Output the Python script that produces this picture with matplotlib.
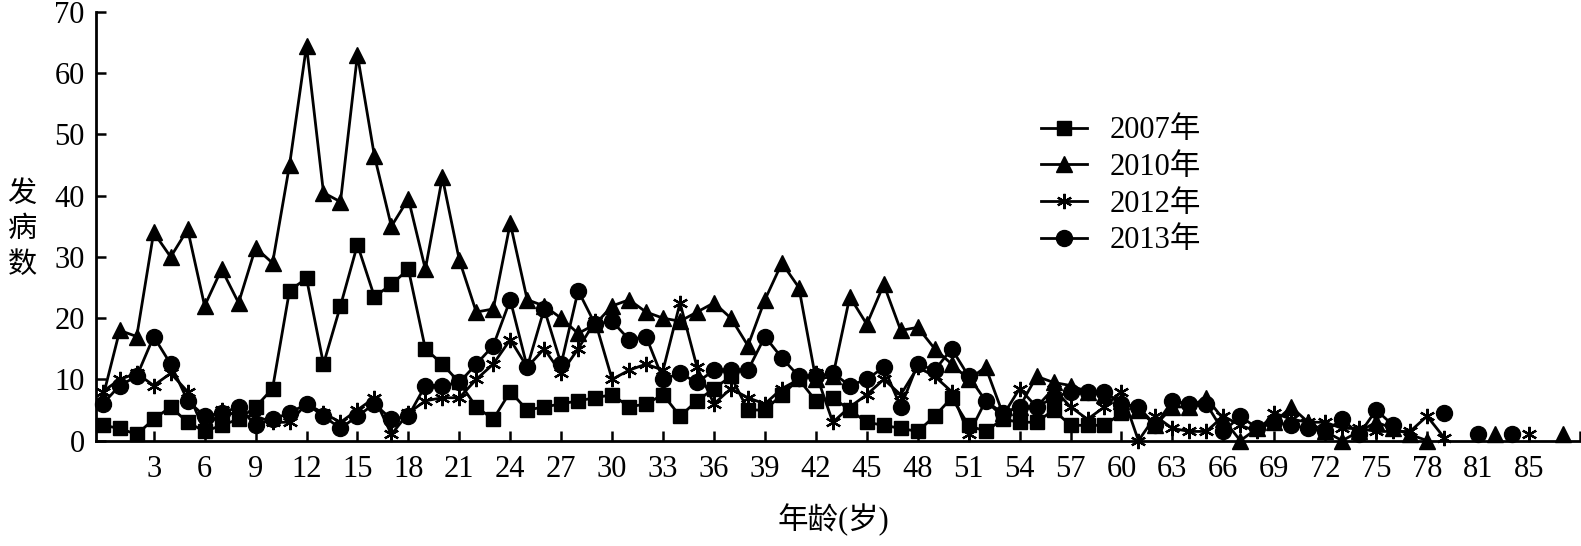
import numpy as np
import matplotlib
matplotlib.use('Agg')
import matplotlib.pyplot as plt

nan = np.nan

# x categories (ages); there is no column for 84, so "85" sits at index 84
ages = list(range(84)) + [85, 86, 87]

series_labels = ['2007年', '2010年', '2012年', '2013年']

cases_2007 = [
    2.5, 2, 1, 3.5, 5.5, 3, 1.5, 2.5, 3.5, 5.5,
    8.5, 24.5, 26.5, 12.5, 22, 32, 23.5, 25.5, 28, 15,
    12.5, 9.5, 5.5, 3.5, 8, 5, 5.5, 6, 6.5, 7,
    7.5, 5.5, 6, 7.5, 4, 6.5, 8.5, 10.5, 5, 5,
    7.5, 10, 6.5, 7, 5, 3, 2.5, 2, 1.5, 4,
    7, 2.5, 1.5, 3.5, 3, 3, 5, 2.5, 2.5, 2.5,
    4.5, nan, nan, nan, nan, nan, nan, nan, nan, nan,
    nan, nan, nan, nan, nan, nan, nan, nan, nan, nan,
    nan, nan, nan, nan, nan, nan, nan,
]
cases_2010 = [
    7, 18, 17, 34, 30, 34.5, 22, 28, 22.5, 31.5,
    29, 45, 64.5, 40.5, 39, 63, 46.5, 35, 39.5, 28,
    43, 29.5, 21, 21.5, 35.5, 23, 22, 20, 17.5, 19,
    22, 23, 21, 20, 19.5, 21, 22.5, 20, 15.5, 23,
    29, 25, 10, 10.5, 23.5, 19, 25.5, 18, 18.5, 15,
    12.5, 10, 12, 4.5, 5.5, 10.5, 9.5, 9, 8, 7.5,
    6.5, 5, 2.5, 5.5, 5.5, 7, 3.5, 0, 2, 3,
    5.5, 3, 1.5, 0, 1.5, 3, 2, 1, 0, nan,
    nan, nan, 1, nan, nan, nan, 1,
]
cases_2012 = [
    8, 10, 11, 9, 11, 8, 1.5, 5, 4, 4,
    3, 3, 6, 4.5, 3, 5, 7, 1, 4.5, 6.5,
    7, 7, 10, 12.5, 16.5, 12, 15, 11, 15, 19.5,
    10, 11.5, 12.5, 11.5, 22.5, 12, 6, 8.5, 7, 6,
    8.5, 10, 11, 3, 5.5, 7.5, 10, 7.5, 12, 10.5,
    8, 1, 6.5, 4, 8.5, 5.5, 8.5, 5.5, 3.5, 5.5,
    8, 0, 4, 2, 1.5, 1.5, 4, 2.5, 1.5, 4.5,
    3.5, 3, 3, 2, 2, 1.5, 1.5, 1.5, 4, 0.5,
    nan, nan, nan, nan, 1, nan, nan,
]
cases_2013 = [
    6, 9, 10.5, 17, 12.5, 6.5, 4, 4.5, 5.5, 2.5,
    3.5, 4.5, 6, 4, 2, 4, 6, 3.5, 4, 9,
    9, 9.5, 12.5, 15.5, 23, 12, 21.5, 12.5, 24.5, 19,
    19.5, 16.5, 17, 10, 11, 9.5, 11.5, 11.5, 11.5, 17,
    13.5, 10.5, 10.5, 11, 9, 10, 12, 5.5, 12.5, 11.5,
    15, 10.5, 6.5, 4.5, 5.5, 5.5, 7, 8, 8, 8,
    6, 5.5, 2.5, 6.5, 6, 6, 1.5, 4, 2, 3,
    2.5, 2, 1.5, 3.5, 1, 5, 2.5, nan, nan, 4.5,
    nan, 1, nan, 1, nan, nan, nan,
]

plt.rcParams['font.family'] = ['Liberation Serif', 'Noto Sans CJK SC']
plt.rcParams['font.size'] = 22

fig = plt.figure(figsize=(15.81, 5.46), dpi=100)
ax = fig.add_axes([0.0607, 0.193, 0.9386, 0.785])

x = np.arange(len(ages))
styles = [
    dict(marker='s', markersize=10.5),
    dict(marker='^', markersize=12),
    dict(marker=(6, 2, 0), markersize=11, markeredgewidth=1.6),
    dict(marker='o', markersize=11.5),
]
for vals, lab, st in zip([cases_2007, cases_2010, cases_2012, cases_2013], series_labels, styles):
    ax.plot(x, vals, color='black', linewidth=2.0, label=lab, clip_on=False, **st)

ax.set_xlim(-0.4, 87)
ax.set_ylim(0, 70)
ax.set_yticks(range(0, 71, 10))

tick_idx = list(range(3, 85, 3))
ax.set_xticks(tick_idx + [87])
ax.set_xticklabels([str(ages[i]) for i in tick_idx] + [''])

for s in ['top', 'right']:
    ax.spines[s].set_visible(False)
for s in ['left', 'bottom']:
    ax.spines[s].set_linewidth(2.0)
ax.tick_params(direction='in', length=7, width=1.8)
ax.tick_params(axis='x', pad=10)
ax.tick_params(axis='y', pad=8)

fig.text(0.527, 0.048, '年龄(岁)', ha='center', va='center', fontsize=22)
fig.text(0.014, 0.58, '发\n病\n数', ha='center', va='center', fontsize=21,
         family='Noto Sans CJK SC', linespacing=1.25)

fig.legend(loc='upper left', bbox_to_anchor=(0.649, 0.815), frameon=False,
           handlelength=1.5, handletextpad=0.75, labelspacing=0.25, borderpad=0)

fig.savefig('out.png', dpi=100)
